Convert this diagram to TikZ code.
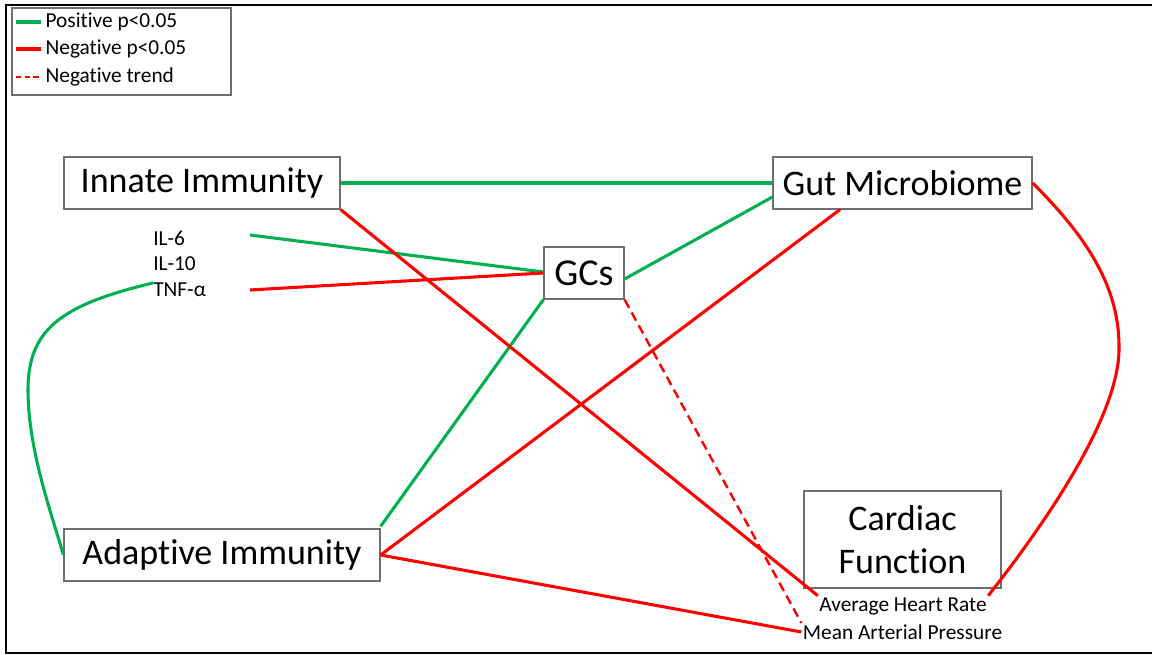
\documentclass[tikz,border=0pt]{standalone}
\usepackage{fontspec}
\setmainfont[Ligatures=NoCommon]{Carlito}
\definecolor{pgreen}{RGB}{0,176,80}
\definecolor{nred}{RGB}{255,0,0}
\definecolor{boxgray}{RGB}{110,110,110}
\begin{document}
\begin{tikzpicture}[x=0.75pt,y=-0.75pt,
  bigbox/.style={draw=boxgray,line width=0.9pt,fill=white,inner sep=0pt,align=center,font=\fontsize{27}{32}\selectfont},
  smalltxt/.style={inner sep=1pt,font=\fontsize{16}{19}\selectfont},
  posline/.style={draw=pgreen,line width=2.3pt},
  negline/.style={draw=nred,line width=2.3pt},
  trendline/.style={draw=nred,line width=1.8pt,dash pattern=on 7pt off 4pt}]
\useasboundingbox (0,0) rectangle (1152,655);
\draw[line width=1.6pt] (1152,5) -- (6,5) -- (6,653) -- (1152,653);

% legend
\node[draw=boxgray,line width=0.8pt,minimum width=164.25pt,minimum height=65.25pt,inner sep=0pt] (legend) at (121.5,51.5) {};
\coordinate (lp1) at (16,22); \coordinate (lp2) at (41,22);
\coordinate (ln1) at (16,49); \coordinate (ln2) at (41,49);
\coordinate (lt1) at (16,77); \coordinate (lt2) at (41,77);
\draw[posline] (lp1) -- (lp2);
\draw[negline] (ln1) -- (ln2);
\draw[draw=nred,line width=1.6pt,dash pattern=on 4pt off 2.5pt] (lt1) -- (lt2);
\node[smalltxt,anchor=west] (legpos) at (44,22) {Positive p<0.05};
\node[smalltxt,anchor=west] (legneg) at (44,49) {Negative p<0.05};
\node[smalltxt,anchor=west] (legtr) at (44,77) {Negative trend};

% boxes
\node[bigbox,minimum width=207pt,minimum height=39pt] (innate) at (202,183) {Innate Immunity};
\node[bigbox,minimum width=194.25pt,minimum height=39pt] (gut) at (902.5,183) {Gut Microbiome};
\node[bigbox,minimum width=60pt,minimum height=39pt,font=\fontsize{28.5}{32}\selectfont] (gcs) at (584,273) {GCs};
\node[bigbox,minimum width=237pt,minimum height=39pt] (adaptive) at (222,555) {Adaptive Immunity};
\node[bigbox,minimum width=147.75pt,minimum height=72.75pt] (cardiac) at (902.5,539.5) {Cardiac\\Function};

% small labels
\node[smalltxt,anchor=west,inner sep=0pt] (il6) at (153,238) {IL-6};
\node[smalltxt,anchor=west,inner sep=0pt] (il10) at (153,264) {IL-10};
\node[smalltxt,anchor=west,inner sep=0pt] (tnf) at (153,290) {TNF-α};
\node[smalltxt] (ahr) at (903,606) {Average Heart Rate};
\node[smalltxt] (map) at (902.5,632) {Mean Arterial Pressure};

\coordinate (il6end) at (250,235);
\coordinate (tnfend) at (250,290);
\coordinate (tnfcurve) at (153,283);

% positive connectors
\draw[posline] (innate.east) -- (gut.west);
\draw[posline] (il6end) -- ([yshift=0.75pt]gcs.west);
\draw[posline] ([yshift=-4.5pt]gcs.east) -- ([yshift=-10.5pt]gut.west);
\draw[posline] (gcs.south west) -- ([yshift=1.5pt]adaptive.north east);
\draw[posline] (tnfcurve) .. controls (60,305) and (28,330) .. (28,390) .. controls (28,450) and (52,515) .. (adaptive.west);

% negative connectors
\draw[negline] (tnfend) -- (gcs.west);
\draw[negline] (innate.south east) -- (ahr.north west);
\draw[negline] ([xshift=-46.9pt]gut.south) -- (adaptive.east);
\draw[negline] (adaptive.east) -- (map.west);
\draw[negline] (gut.east) .. controls (1090,240) and (1120,290) .. (1119,350) .. controls (1118,420) and (1040,530) .. (ahr.north east);
\draw[trendline] (gcs.south east) -- (map.north west);
\end{tikzpicture}
\end{document}
